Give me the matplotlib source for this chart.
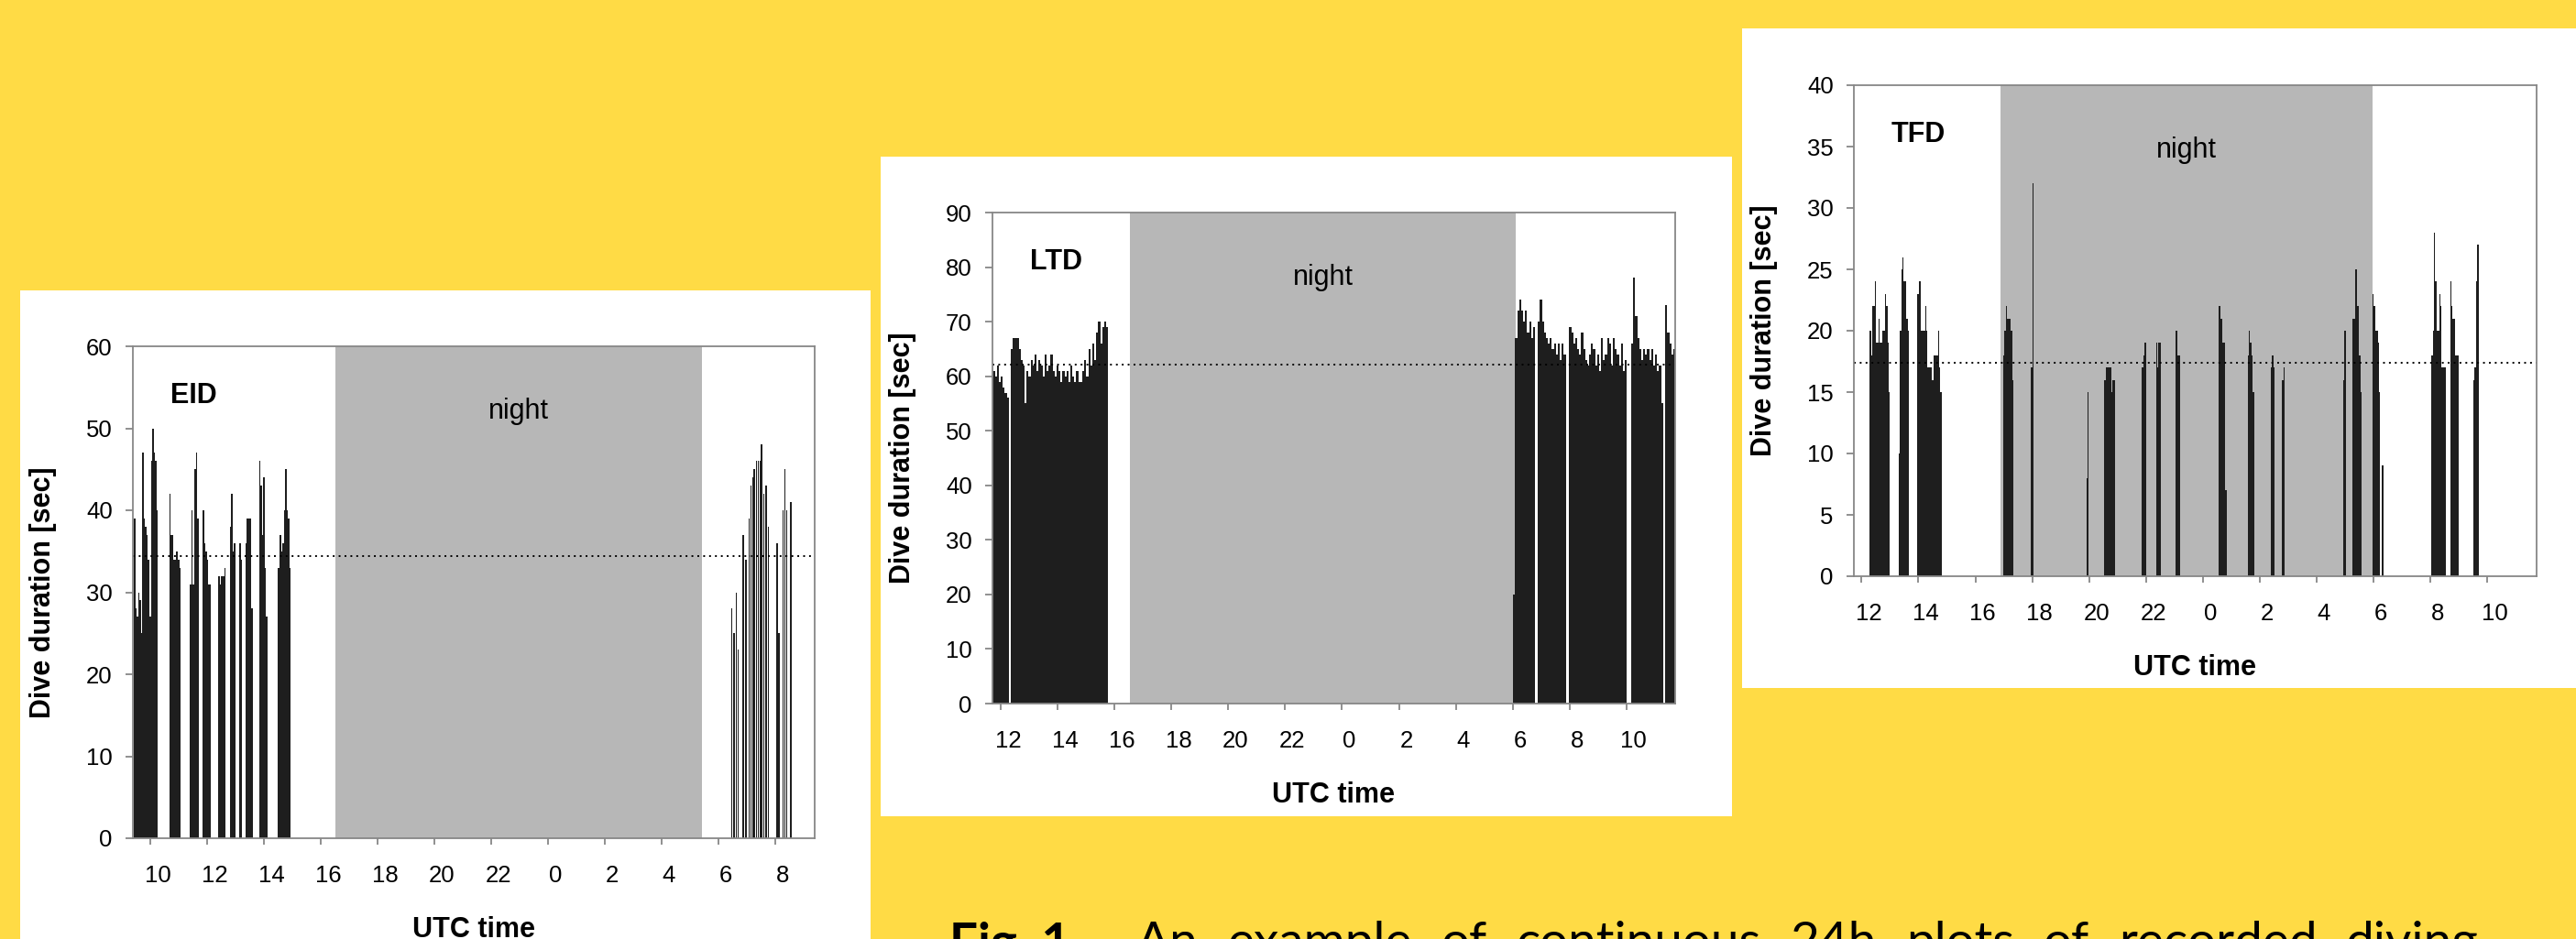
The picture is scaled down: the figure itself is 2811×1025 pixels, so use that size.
import matplotlib
matplotlib.use('Agg')
import matplotlib.pyplot as plt
from matplotlib.patches import Rectangle
import matplotlib.transforms as mtransforms
import numpy as np

W, H = 2811, 1025
BG = '#FFDB45'
NIGHT = '#B7B7B7'
BAR = '#1E1E1E'
SPINE = '#878787'
FONT = 'Liberation Sans'

# ---------------- data ----------------
# EID (hours, continuous from start day; >24 = next day)
eid_step = 0.05
eid_blocks = [
    (9.42, [39, 28, 27, 30, 29, 25, 47, 39, 38, 37, 34, 27, 46, 50, 47, 46, 40]),
    (10.67, [42, 37, 37, 34, 34, 35, 34, 33]),
    (11.40, [31, 40, 31, 45, 47, 39]),
    (11.84, [40, 36, 35, 34, 31, 31]),
    (12.40, [32, 31, 32, 32, 33]),
    (12.80, [38, 42, 35, 36]),
    (13.13, [36, 34]),
    (13.35, [36, 39, 39, 39, 28]),
    (13.83, [46, 43, 37, 44, 33, 27]),
    (14.50, [33, 37, 35, 36, 40, 45, 40, 39, 33]),
]
eid_sparse_t = [30.47, 30.55, 30.63, 30.69, 30.87, 30.97, 31.09, 31.15, 31.21, 31.26,
                31.34, 31.40, 31.46, 31.52, 31.60, 31.68, 31.76, 32.07, 32.13, 32.27,
                32.33, 32.41, 32.55]
eid_sparse_v = [28, 25, 30, 23, 37, 34, 39, 43, 44, 45, 46, 46, 46, 48, 42, 43, 38,
                36, 25, 40, 45, 40, 41]
eid_mean = 34.4
eid_night = (16.51, 29.42)
eid_xlim = (9.39, 33.39)
eid_xticks = [10, 12, 14, 16, 18, 20, 22, 24, 26, 28, 30, 32]
eid_xticklabels = ['10', '12', '14', '16', '18', '20', '22', '0', '2', '4', '6', '8']
eid_yticks = [0, 10, 20, 30, 40, 50, 60]

# LTD
ltd_step = 0.07
ltd_blocks = [
    (11.71, [61, 60, 62, 59, 60, 58, 57, 56]),
    (12.34, [65, 67, 67, 67, 65, 63, 62, 55, 61, 60, 63, 62, 64, 61, 63, 62, 60, 64, 61, 62,
             64, 61, 60, 62, 61, 59, 61, 60, 61, 59, 62, 60, 59, 61, 59, 59, 61, 63, 60, 65,
             62, 66, 63, 68, 70, 66, 69, 70, 69]),
    (30.02, [20, 67, 72, 74, 72, 70, 72, 68, 70, 67, 69]),
    (30.89, [70, 74, 70, 68, 67, 66, 67, 65, 66, 64, 66, 63, 66, 64]),
    (31.99, [69, 68, 66, 67, 65, 64, 68, 65, 63, 62, 64, 66, 65, 62, 64, 61, 67, 63, 64, 67,
             66, 62, 67, 65, 64, 62, 66, 61, 63]),
    (34.17, [66, 78, 71, 67, 65, 63, 65, 64, 65, 63, 65, 62, 64, 61, 62, 55]),
    (35.37, [73, 68, 66, 64, 65]),
]
ltd_mean = 62.1
ltd_night = (16.53, 30.12)
ltd_xlim = (11.70, 35.72)
ltd_xticks = [12, 14, 16, 18, 20, 22, 24, 26, 28, 30, 32, 34]
ltd_xticklabels = ['12', '14', '16', '18', '20', '22', '0', '2', '4', '6', '8', '10']
ltd_yticks = [0, 10, 20, 30, 40, 50, 60, 70, 80, 90]

# TFD
tfd_step = 0.045
tfd_blocks = [
    (12.28, [20, 18, 22, 22, 24, 19, 19, 21, 19, 19, 20, 20, 23, 22, 19, 15]),
    (13.30, [10, 20, 25, 26, 24, 24, 21, 20]),
    (13.96, [23, 24, 24, 20, 20, 20, 22, 20, 17, 17, 17, 16, 16, 18, 18, 18, 20, 17, 15]),
    (16.98, [18, 20, 22, 21, 21, 21, 20, 16]),
    (17.96, [17, 32]),
    (19.90, [8, 15]),
    (20.54, [16, 17, 17, 17, 17, 15, 16, 16]),
    (21.86, [17, 18, 19]),
    (22.35, [19, 17, 19, 19]),
    (23.05, [20, 18, 18]),
    (24.56, [22, 21, 21, 19, 19, 7]),
    (25.57, [18, 20, 19, 18, 15]),
    (26.38, [17, 18, 17]),
    (26.79, [16, 17]),
    (28.93, [16, 20]),
    (29.27, [21, 21, 25, 22, 22, 18, 15]),
    (29.96, [23, 22, 20, 20, 19, 15]),
    (30.30, [9]),
    (32.03, [18, 20, 28, 24, 20, 20, 23, 22, 17, 17, 17]),
    (32.69, [24, 22, 21, 21, 18, 18, 18]),
    (33.51, [16, 17, 24, 27]),
]
tfd_mean = 17.4
tfd_night = (16.89, 29.97)
tfd_xlim = (11.73, 35.73)
tfd_xticks = [12, 14, 16, 18, 20, 22, 24, 26, 28, 30, 32, 34]
tfd_xticklabels = ['12', '14', '16', '18', '20', '22', '0', '2', '4', '6', '8', '10']
tfd_yticks = [0, 5, 10, 15, 20, 25, 30, 35, 40]

caption_bold = 'Fig. 1.'
caption_rest = 'An example of continuous 24h plots of recorded diving'

# ---------------- figure ----------------
fig = plt.figure(figsize=(W / 100, H / 100), dpi=100)
fig.patch.set_facecolor(BG)


def panel(rect_px, ax_px, xlim, ylim, yticks, xticks, xticklabels, blocks, step,
          night, mean, name, sparse_t=None, sparse_v=None, sparse_w=0.04):
    x0, y0, x1, y1 = rect_px
    fig.patches.append(Rectangle((x0 / W, 1 - y1 / H), (x1 - x0) / W, (y1 - y0) / H,
                                 transform=fig.transFigure, facecolor='white',
                                 edgecolor='none', zorder=-1))
    a0, b0, a1, b1 = ax_px
    ax = fig.add_axes([a0 / W, 1 - b1 / H, (a1 - a0) / W, (b1 - b0) / H])
    ax.set_facecolor('white')
    ax.axvspan(night[0], night[1], color=NIGHT, lw=0, zorder=0)
    for start, vals in blocks:
        t = start + step * np.arange(len(vals))
        ax.bar(t, vals, width=step * 1.03, align='edge', color=BAR, linewidth=0, zorder=2)
    if sparse_t is not None:
        ax.bar(sparse_t, sparse_v, width=sparse_w, align='center', color=BAR,
               linewidth=0, zorder=2)
    ax.axhline(mean, color='black', lw=1.4, linestyle=(0, (1, 2.3)), zorder=3)
    ax.set_xlim(*xlim)
    ax.set_ylim(*ylim)
    ax.set_yticks(yticks)
    ax.set_yticklabels([str(v) for v in yticks], fontfamily=FONT)
    ax.set_xticks(xticks)
    ax.set_xticklabels(xticklabels, fontfamily=FONT)
    ax.tick_params(axis='x', direction='out', length=5, width=1.3, color=SPINE,
                   pad=16, labelsize=18.5)
    ax.tick_params(axis='y', direction='out', length=6, width=1.3, color=SPINE,
                   pad=10, labelsize=18.5)
    offset = mtransforms.ScaledTranslation(8 / 100, 0, fig.dpi_scale_trans)
    for lab in ax.get_xticklabels():
        lab.set_transform(lab.get_transform() + offset)
    for sp in ax.spines.values():
        sp.set_color(SPINE)
        sp.set_linewidth(1.3)
        sp.set_zorder(4)
    axw = a1 - a0
    axh = b1 - b0
    ax.text(-98 / axw, 0.5, 'Dive duration [sec]', transform=ax.transAxes,
            rotation=90, ha='center', va='center', fontsize=22, fontweight='bold',
            fontfamily=FONT, clip_on=False)
    ax.text(0.5, -100 / axh, 'UTC time', transform=ax.transAxes, ha='center',
            va='center', fontsize=22, fontweight='bold', fontfamily=FONT, clip_on=False)
    ax.text(0.055, 0.90, name, transform=ax.transAxes, ha='left', va='center',
            fontsize=22, fontweight='bold', fontfamily=FONT, zorder=5)
    trans = mtransforms.blended_transform_factory(ax.transData, ax.transAxes)
    ax.text((night[0] + night[1]) / 2, 0.868, 'night', transform=trans, ha='center',
            va='center', fontsize=22, fontfamily=FONT, zorder=5)
    return ax


panel((22, 317, 950, 1025), (145, 378, 889, 915), eid_xlim, (0, 60), eid_yticks,
      eid_xticks, eid_xticklabels, eid_blocks, eid_step, eid_night, eid_mean, 'EID',
      sparse_t=eid_sparse_t, sparse_v=eid_sparse_v, sparse_w=0.04)
panel((961, 171, 1890, 891), (1083, 232, 1828, 768), ltd_xlim, (0, 90), ltd_yticks,
      ltd_xticks, ltd_xticklabels, ltd_blocks, ltd_step, ltd_night, ltd_mean, 'LTD')
panel((1901, 31, 2811, 751), (2023, 93, 2768, 629), tfd_xlim, (0, 40), tfd_yticks,
      tfd_xticks, tfd_xticklabels, tfd_blocks, tfd_step, tfd_night, tfd_mean, 'TFD')

# ---------------- caption (justified words) ----------------
renderer = fig.canvas.get_renderer()
cap_font = 'Lato'
cap_top = 1 - 1005 / H
t_bold = fig.text(1036 / W, cap_top, caption_bold, fontsize=36, fontweight='bold',
                  fontfamily=cap_font, ha='left', va='top')
bw = t_bold.get_window_extent(renderer).width
fs = 36 * 145 / bw
t_bold.set_fontsize(fs)

words = caption_rest.split(' ')
xstart, xend = 1240, 2705
texts = []
widths = []
for w_ in words:
    t = fig.text(0, cap_top, w_, fontsize=fs, fontfamily=cap_font, ha='left', va='top')
    texts.append(t)
    widths.append(t.get_window_extent(renderer).width)
gap = (xend - xstart - sum(widths)) / (len(words) - 1)
x = xstart
for t, wd in zip(texts, widths):
    t.set_x(x / W)
    x += wd + gap

fig.savefig('out.png', dpi=100, facecolor=BG)
